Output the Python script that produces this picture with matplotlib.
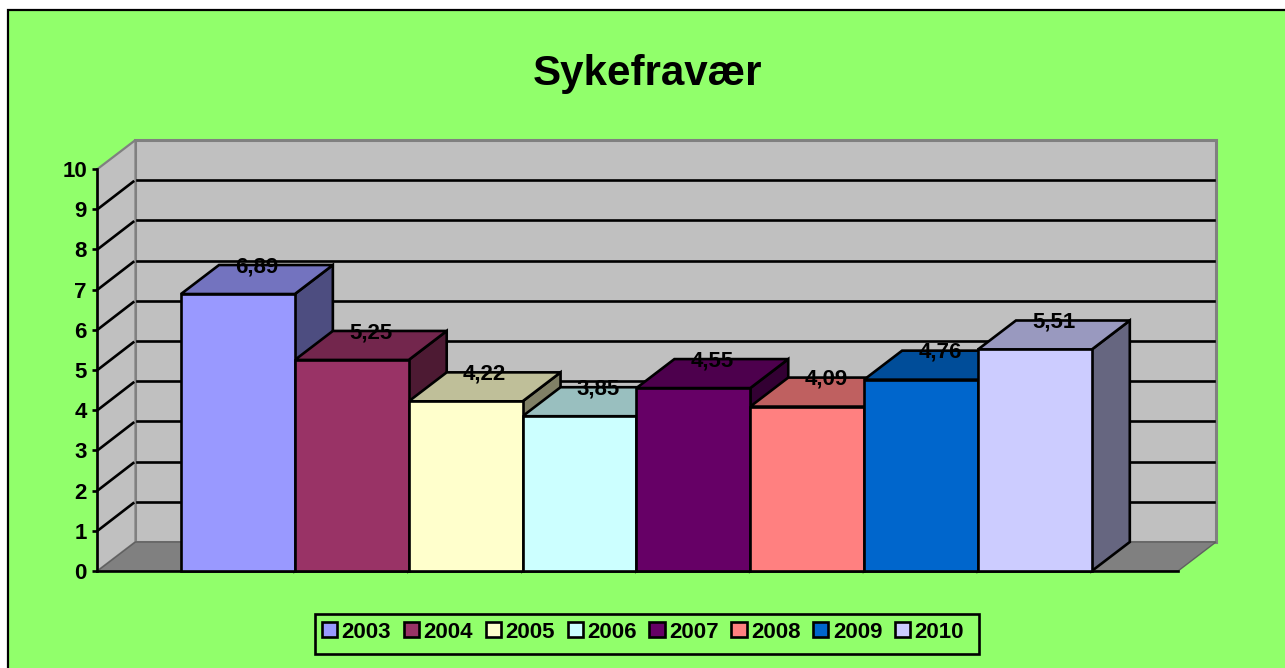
import matplotlib
matplotlib.use("Agg")
import matplotlib.pyplot as plt
from matplotlib.patches import Polygon, Rectangle
import matplotlib.colors as mc

years = ['2003', '2004', '2005', '2006', '2007', '2008', '2009', '2010']
values = [6.89, 5.25, 4.22, 3.85, 4.55, 4.09, 4.76, 5.51]
labels = ['6,89', '5,25', '4,22', '3,85', '4,55', '4,09', '4,76', '5,51']
colors = ['#9999FF', '#993366', '#FFFFCC', '#CCFFFF', '#660066', '#FF8080', '#0066CC', '#CCCCFF']
yticks = list(range(11))
title = 'Sykefravær'

W, H = 1285, 668
BG = '#91FF6B'
plt.rcParams['font.family'] = ['Liberation Sans', 'DejaVu Sans']
LW = 1.9
FS = 16
fig = plt.figure(figsize=(W / 100, H / 100), dpi=100, facecolor='white')
fig.add_artist(Rectangle((8 / W, -0.02), 1.05, 1.02 - 10 / H, transform=fig.transFigure,
                         fc=BG, ec='black', lw=1.6, zorder=-5))

# plot area: front plane in pixels
L, R, T, B = 97.5, 1178, 169, 571
ax = fig.add_axes([L / W, 1 - B / H, (R - L) / W, (B - T) / H])
ax.patch.set_visible(False)
bar_px = 113.85
left_gap = 83.5 / bar_px
n = len(values)
xmin = -0.5 - left_gap
xmax = xmin + (R - L) / bar_px
ax.set_xlim(xmin, xmax)
ax.set_ylim(0, 10)
dx = 38 / bar_px
dy = 29 / ((B - T) / 10)


def shade(c, f):
    r, g, b = mc.to_rgb(c)
    return (r * f, g * f, b * f)


# walls
wall = '#C0C0C0'
ax.add_patch(Polygon([(xmin + dx, dy), (xmax + dx, dy), (xmax + dx, 10 + dy), (xmin + dx, 10 + dy)],
                     fc=wall, ec='#808080', lw=2.2, clip_on=False, zorder=1))
ax.add_patch(Polygon([(xmin, 0), (xmin + dx, dy), (xmin + dx, 10 + dy), (xmin, 10)],
                     fc=wall, ec='#808080', lw=1.6, clip_on=False, zorder=1))
ax.add_patch(Polygon([(xmin, 0), (xmax, 0), (xmax + dx, dy), (xmin + dx, dy)],
                     fc='#808080', ec='#606060', lw=1, clip_on=False, zorder=1))
# gridlines along both walls
for v in yticks[1:-1]:
    ax.plot([xmin, xmin + dx - 0.02], [v, v + dy * 0.95], color='black', lw=LW,
            clip_on=False, zorder=2)
    ax.plot([xmin + dx + 0.015, xmax + dx - 0.015], [v + dy, v + dy], color='black', lw=LW,
            clip_on=False, zorder=2)
# floor front edge
ax.plot([xmin, xmax], [0, 0], color='black', lw=LW, clip_on=False, zorder=2)

# bars: left-to-right so that each top hides the lower part of the left neighbour's side
for i in range(n):
    v, c = values[i], colors[i]
    x0, x1 = i - 0.5, i + 0.5
    z = 3 + i * 0.01
    ax.add_patch(Polygon([(x1, 0), (x1 + dx, dy), (x1 + dx, v + dy), (x1, v)],
                         fc=shade(c, 0.5), ec='black', lw=LW, clip_on=False, zorder=z))
    ax.add_patch(Polygon([(x0, v), (x1, v), (x1 + dx, v + dy), (x0 + dx, v + dy)],
                         fc=shade(c, 0.75), ec='black', lw=LW, clip_on=False, zorder=z))
bars = ax.bar(range(n), values, width=1.0, color=colors, edgecolor='black', linewidth=LW, zorder=4, clip_on=False)

for i, (v, s) in enumerate(zip(values, labels)):
    ax.annotate(s, (i + dx / 2, v + dy), xytext=(0, -1.2), textcoords='offset points',
                ha='center', va='center', fontsize=FS, fontweight='bold',
                color='black', zorder=6, annotation_clip=False)

# axes
for s in ['top', 'right', 'bottom']:
    ax.spines[s].set_visible(False)
ax.spines['left'].set_linewidth(LW)
ax.spines['left'].set_zorder(5)
ax.set_xticks([])
ax.set_yticks(yticks)
ax.tick_params(axis='y', length=3.6, width=LW, pad=4, labelsize=FS)
for t in ax.get_yticklabels():
    t.set_fontweight('bold')

fig.text(647 / W, 1 - 73.5 / H, title, ha='center', va='center', fontsize=30.3, fontweight='bold')

# legend with its own frame (the reference's box has uneven side padding)
fig.add_artist(Rectangle((314.5 / W, 1 - 654 / H), 664.5 / W, 40.5 / H, transform=fig.transFigure,
                         fc=BG, ec='black', lw=LW, zorder=1))
handles = [Rectangle((0, 0), 1, 1, fc=c, ec='black', lw=LW) for c in colors]
leg = fig.legend(handles, years, ncol=n, loc='center left', bbox_to_anchor=(322 / W, 1 - 632 / H),
                 frameon=False, prop={'size': FS, 'weight': 'bold'},
                 handlelength=0.68, handleheight=0.68,
                 handletextpad=0.2, columnspacing=0.576, borderpad=0, borderaxespad=0)
leg.set_zorder(2)

fig.savefig('out.png', dpi=100, facecolor=fig.get_facecolor())
